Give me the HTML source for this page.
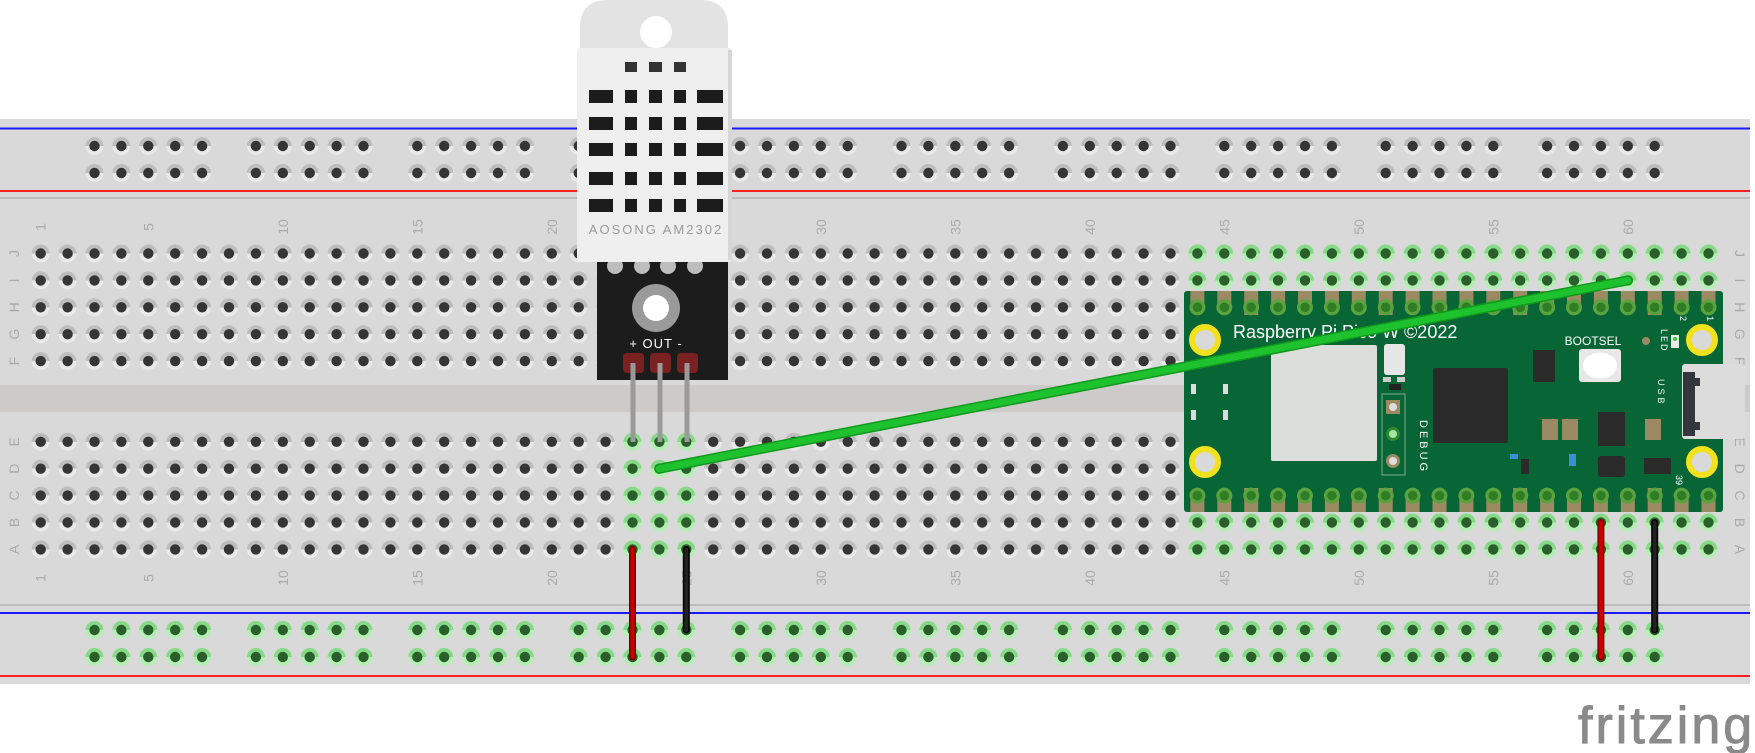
<!DOCTYPE html>
<html><head><meta charset="utf-8"><style>
html,body{margin:0;padding:0;background:#fff;}
svg{display:block;}
text{font-family:"Liberation Sans",sans-serif;}
</style></head><body>
<svg id="svg" width="1755" height="753" viewBox="0 0 1755 753" xmlns="http://www.w3.org/2000/svg">
<defs>
<linearGradient id="ring" x1="0" y1="0" x2="0" y2="1"><stop offset="0.5" stop-color="#bdbdbd"/><stop offset="0.5" stop-color="#e9e9e9"/></linearGradient>
<linearGradient id="gring" x1="0" y1="0" x2="0" y2="1"><stop offset="0.5" stop-color="#86d986"/><stop offset="0.5" stop-color="#b5efb5"/></linearGradient>
</defs>
<g id="board">
<rect x="0" y="119" width="1750" height="565" fill="#d9d9d9"/>
<rect x="0" y="385" width="1750" height="27" fill="#cdcbc9"/>
<rect x="0" y="127.5" width="1750" height="2" fill="#1a1aff"/>
<rect x="0" y="190" width="1750" height="2" fill="#ff2020"/>
<rect x="0" y="197" width="1750" height="2" fill="#bcbcbc"/>
<rect x="0" y="604" width="1750" height="2" fill="#bcbcbc"/>
<rect x="0" y="612" width="1750" height="2" fill="#1a1aff"/>
<rect x="0" y="675" width="1750" height="2" fill="#ff2020"/>
</g>
<g id="holes"></g>
<g id="labels"></g>
<g id="pico">
<rect x="1184" y="291" width="539" height="221" rx="3" fill="#076536"/>
<rect x="1682" y="364" width="63" height="75" rx="3" fill="#dcdcdc"/>
<path d="M1683 372 h12 v6 h5 v8 h-5 v36 h5 v8 h-5 v6 h-12 z" fill="#33363d"/>
<g id="picopins"></g>
<circle cx="1205" cy="340" r="13" fill="#d9d9d9" stroke="#f2e21e" stroke-width="6"/>
<circle cx="1205" cy="462" r="13" fill="#d9d9d9" stroke="#f2e21e" stroke-width="6"/>
<circle cx="1702" cy="340" r="13" fill="#d9d9d9" stroke="#f2e21e" stroke-width="6"/>
<circle cx="1702" cy="462" r="13" fill="#d9d9d9" stroke="#f2e21e" stroke-width="6"/>
<text x="1233" y="338" font-size="18" fill="#fff">Raspberry Pi Pico W ©2022</text>
<rect x="1271" y="345" width="106" height="116" rx="2" fill="#dcdedc"/>
<rect x="1384" y="344" width="21" height="31" rx="3" fill="#e6e6e6"/>
<rect x="1383" y="377" width="8" height="5" fill="#ccc"/><rect x="1397" y="377" width="8" height="5" fill="#ccc"/>
<rect x="1389" y="384" width="12" height="6" fill="#222"/>
<rect x="1382" y="394" width="23" height="81" fill="none" stroke="#7fae8e" stroke-width="1"/>
<rect x="1386" y="400" width="14" height="14" fill="#9c8a63"/><circle cx="1393" cy="407" r="4" fill="#ddd"/>
<circle cx="1393" cy="434" r="7" fill="#2f8a2f"/><circle cx="1393" cy="434" r="4" fill="#a8e6a8"/>
<circle cx="1393" cy="461" r="7" fill="#9c8a63"/><circle cx="1393" cy="461" r="4" fill="#ddd"/>
<text x="1420" y="420" font-size="11" fill="#fff" transform="rotate(90 1420 420)" letter-spacing="3">DEBUG</text>
<rect x="1433" y="368" width="75" height="75" rx="2" fill="#2b2b2b"/>
<rect x="1191" y="384" width="5" height="10" fill="#ddd"/><rect x="1223" y="384" width="5" height="10" fill="#ddd"/>
<rect x="1191" y="410" width="5" height="10" fill="#ddd"/><rect x="1223" y="410" width="5" height="10" fill="#ddd"/>
<text x="1593" y="345" font-size="12" fill="#fff" text-anchor="middle">BOOTSEL</text>
<rect x="1579" y="349" width="42" height="33" rx="3" fill="#e8e8e8"/><ellipse cx="1600" cy="365.5" rx="17" ry="13" fill="#fff"/>
<rect x="1533" y="350" width="22" height="32" fill="#2b2b2b"/>
<rect x="1598" y="412" width="27" height="34" fill="#2b2b2b"/>
<rect x="1598" y="456" width="27" height="21" rx="3" fill="#2b2b2b"/>
<rect x="1644" y="458" width="27" height="16" fill="#2b2b2b"/>
<rect x="1542" y="419" width="16" height="21" fill="#9c8a63"/><rect x="1562" y="419" width="16" height="21" fill="#9c8a63"/>
<rect x="1645" y="419" width="16" height="21" fill="#9c8a63"/>
<rect x="1510" y="454" width="8" height="5" fill="#3a8fd6"/><rect x="1569" y="454" width="7" height="12" fill="#3a8fd6"/>
<rect x="1521" y="459" width="8" height="15" fill="#2b2b2b"/>
<rect x="1671" y="335" width="8" height="13" fill="#e8e8e8"/><circle cx="1675" cy="339" r="2" fill="#3c3"/>
<circle cx="1646" cy="341" r="4" fill="#9c8a63"/>
<text x="1661" y="329" font-size="9" fill="#fff" transform="rotate(90 1661 329)" letter-spacing="2">LED</text>
<text x="1658" y="379" font-size="9" fill="#fff" transform="rotate(90 1658 379)" letter-spacing="3">USB</text>
<text x="1680" y="316" font-size="9" fill="#fff" transform="rotate(90 1680 316)">2</text>
<text x="1707" y="316" font-size="9" fill="#fff" transform="rotate(90 1707 316)">1</text>
<text x="1676" y="475" font-size="9" fill="#fff" transform="rotate(90 1676 475)">39</text>
</g>
<g id="sensor">
<rect x="597" y="258" width="131" height="122" fill="#1c1c1c"/>
<circle cx="615" cy="266" r="8" fill="#bdbdbd"/><circle cx="642" cy="266" r="8" fill="#bdbdbd"/>
<circle cx="668" cy="266" r="8" fill="#bdbdbd"/><circle cx="695" cy="266" r="8" fill="#bdbdbd"/>
<circle cx="656" cy="308" r="24" fill="#9a9a9a"/><circle cx="656" cy="308" r="13" fill="#fff"/>
<text x="656" y="348" font-size="13" fill="#fff" text-anchor="middle" letter-spacing="1">+ OUT -</text>
<rect x="623" y="353" width="21" height="20" rx="4" fill="#7a2222"/>
<rect x="650" y="353" width="21" height="20" rx="4" fill="#7a2222"/>
<rect x="677" y="353" width="21" height="20" rx="4" fill="#7a2222"/>
<rect x="630.5" y="363" width="5" height="79" fill="#9a9a9a"/>
<rect x="657.5" y="363" width="5" height="79" fill="#9a9a9a"/>
<rect x="684.5" y="363" width="5" height="79" fill="#9a9a9a"/>
<path d="M580 60 V28 Q580 0 608 0 H700 Q728 0 728 28 V60 Z" fill="#e3e3e3"/>
<circle cx="656" cy="32" r="16" fill="#fff"/>
<rect x="577" y="48" width="155" height="214" rx="3" fill="#efefef"/>
<rect x="728" y="50" width="4" height="210" fill="#d6d6d6"/>
<g id="grill"></g>
<text x="656" y="234" font-size="13" fill="#9a9a9a" text-anchor="middle" letter-spacing="2">AOSONG AM2302</text>
</g>
<g id="wires"></g>
<text x="1578" y="743" font-size="52" fill="#8a8a8a" letter-spacing="3" stroke="#8a8a8a" stroke-width="1">fritzing</text>
</svg>
<script>
const NS='http://www.w3.org/2000/svg';
const columnCount=63;
const rowLetters=['J','I','H','G','F','E','D','C','B','A'];
const columnLabels=[1,5,10,15,20,25,30,35,40,45,50,55,60];
const highlightedCols=[[23,25],[44,63]];
const picoCols=[44,63];
const wireList=[
 {name:'data-wire',c1:24,r1:'D',c2:60,r2:'I',color:'#1ec22e',edge:'#10991c',w:8},
 {name:'power-wire-left',c1:23,r1:'A',c2:23,r2:'R2',color:'#cc0000',edge:'#7a0000',w:5},
 {name:'ground-wire-left',c1:25,r1:'A',c2:25,r2:'R1',color:'#222',edge:'#000',w:5},
 {name:'power-wire-right',c1:59,r1:'B',c2:59,r2:'R2',color:'#cc0000',edge:'#7a0000',w:5},
 {name:'ground-wire-right',c1:61,r1:'B',c2:61,r2:'R1',color:'#222',edge:'#000',w:5}
];
const pitch=26.9, x0=40.7;
function colX(c){return x0+(c-1)*pitch;}
function rowY(r){
 if(r==='R1') return 630; if(r==='R2') return 657;
 if(r==='T1') return 146; if(r==='T2') return 173;
 const i=rowLetters.indexOf(r);
 return i<5 ? 253.5+i*pitch : 441.8+(i-5)*pitch;
}
function mk(t,a,p){const e=document.createElementNS(NS,t);for(const k in a)e.setAttribute(k,a[k]);(p||document.getElementById('holes')).appendChild(e);return e;}
function isHi(c){return highlightedCols.some(r=>c>=r[0]&&c<=r[1]);}
function hole(x,y,g,name){
 const gr=mk('g',{});
 
 
 mk('circle',{cx:x,cy:y,r:9,fill:g?'url(#gring)':'url(#ring)'},gr);
 mk('circle',{cx:x,cy:y,r:5.2,fill:g?'#2a5e2a':'#353535'},gr);
}
for(let c=1;c<=columnCount;c++){
 for(const r of rowLetters){
  const y=rowY(r);
  if(c>=picoCols[0]&&c<=picoCols[1]&&y>295&&y<505) continue;
  hole(colX(c),y,isHi(c),'hole-'+r+c);
 }
}
for(let g=0;g<10;g++)for(let k=0;k<5;k++){
 const c=3+6*g+k;
 for(const r of ['T1','T2']) hole(colX(c),rowY(r),false,'top-rail-hole');
 for(const r of ['R1','R2']) hole(colX(c),rowY(r),true,'bottom-rail-hole');
}
const L=document.getElementById('labels');
for(const n of columnLabels){
 for(const y of [227,578]){
  const t=mk('text',{x:colX(n),y:y,'font-size':14,fill:'#aaa','text-anchor':'middle',transform:'rotate(-90 '+colX(n)+' '+y+')','dominant-baseline':'central'},L);
  
  
  t.textContent=n;
 }
}
for(const r of rowLetters){
 const y=rowY(r);
 const t=mk('text',{x:14,y:y,'font-size':14,fill:'#aaa','text-anchor':'middle',transform:'rotate(-90 14 '+y+')','dominant-baseline':'central'},L);
 
 
 t.textContent=r;
 const t2=mk('text',{x:1740,y:y,'font-size':14,fill:'#aaa','text-anchor':'middle',transform:'rotate(90 1740 '+y+')','dominant-baseline':'central'},L);
 
 
 t2.textContent=r;
}
const P=document.getElementById('picopins');
for(let c=picoCols[0];c<=picoCols[1];c++){
 const x=colX(c);
 const sq=((c-picoCols[0])%5===2);
 mk('rect',{x:x-7,y:291,width:14,height:sq?24:17,fill:'#9c8a63'},P);
 mk('rect',{x:x-7,y:sq?488:495,width:14,height:sq?24:17,fill:'#9c8a63'},P);
 for(const y of [rowY('H'),rowY('C')]){
  const p=mk('circle',{cx:x,cy:y,r:8,fill:'#5aa33f'},P);
  
  
  mk('circle',{cx:x,cy:y,r:4.8,fill:'#2f7d24'},P);
 }
}
const G=document.getElementById('grill');
const slotCols=[[589,24],[625,12],[649,13],[674,12],[697,26]];
const slotRows=[90,117,143,172,199];
for(const y of slotRows)for(const s of slotCols) mk('rect',{x:s[0],y:y,width:s[1],height:13,fill:'#1c1c1c'},G);
for(const s of slotCols.slice(1,4)) mk('rect',{x:s[0],y:62,width:s[1],height:10,fill:'#333'},G);
const W=document.getElementById('wires');
for(const w of wireList){
 const a={x1:colX(w.c1),y1:rowY(w.r1),x2:colX(w.c2),y2:rowY(w.r2)};
 const e=mk('line',Object.assign({stroke:w.edge,'stroke-width':w.w+2,'stroke-linecap':'round'},a),W);
 
 
 mk('line',Object.assign({stroke:w.color,'stroke-width':w.w-1,'stroke-linecap':'round'},a),W);
}
</script>
</body></html>
